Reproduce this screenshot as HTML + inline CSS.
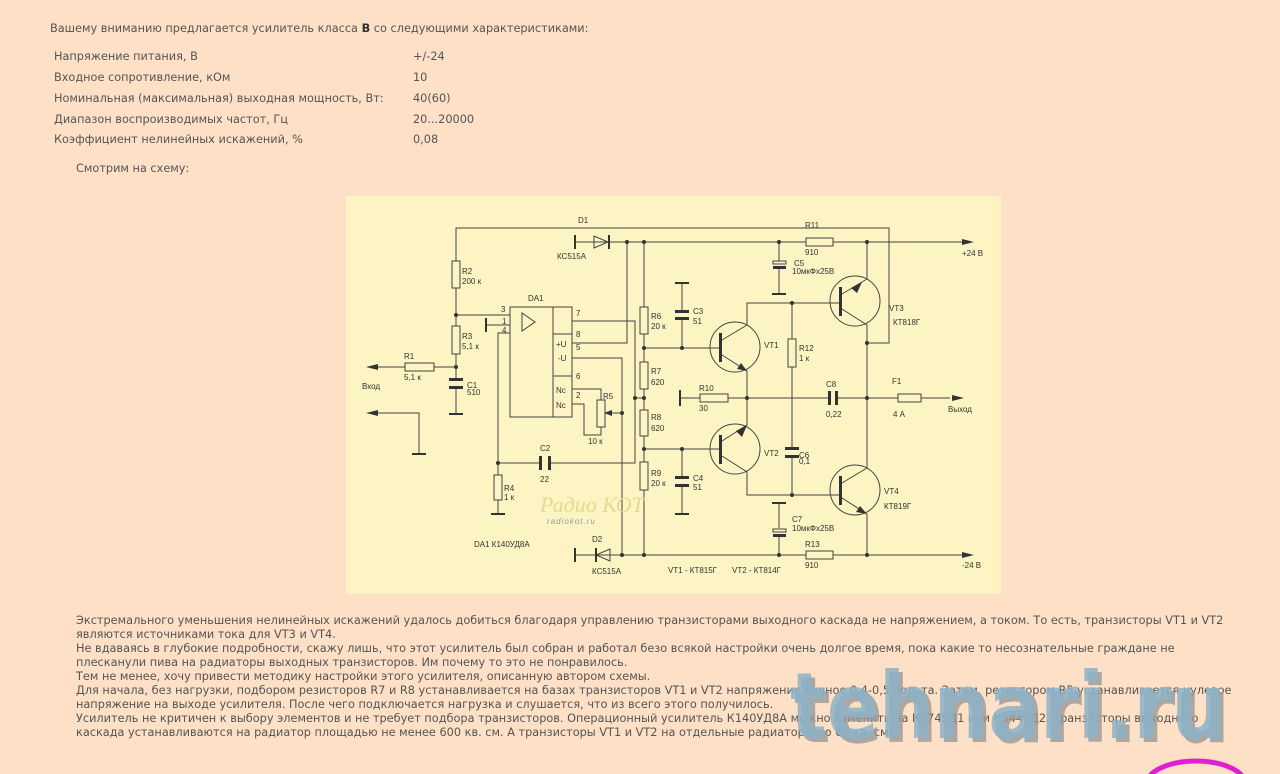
<!DOCTYPE html>
<html style="overflow:hidden;height:774px"><head><meta charset="utf-8"><style>
html,body{margin:0;padding:0}
body{width:1280px;height:774px;background:#fde0c5;position:relative;overflow:hidden;font-family:"DejaVu Sans","Liberation Sans",sans-serif;font-size:11.3px;color:#555}
.t{position:absolute;white-space:nowrap;line-height:14px}
svg{position:absolute;left:0;top:0}
</style></head><body>
<div class="t" style="left:50px;top:22px">Вашему вниманию предлагается усилитель класса <b style="color:#333">В</b> со следующими характеристиками:</div>
<div class="t" style="left:54px;top:50px">Напряжение питания, В</div><div class="t" style="left:413px;top:50px">+/-24</div>
<div class="t" style="left:54px;top:71px">Входное сопротивление, кОм</div><div class="t" style="left:413px;top:71px">10</div>
<div class="t" style="left:54px;top:92px">Номинальная (максимальная) выходная мощность, Вт:</div><div class="t" style="left:413px;top:92px">40(60)</div>
<div class="t" style="left:54px;top:113px">Диапазон воспроизводимых частот, Гц</div><div class="t" style="left:413px;top:113px">20...20000</div>
<div class="t" style="left:54px;top:133px">Коэффициент нелинейных искажений, %</div><div class="t" style="left:413px;top:133px">0,08</div>
<div class="t" style="left:76px;top:162px">Смотрим на схему:</div>

<svg width="1280" height="774" viewBox="0 0 1280 774" font-family="Liberation Sans, sans-serif" font-size="8" fill="#333">
<rect x="346" y="196" width="655" height="398" fill="#fcf4c2"/>
<g stroke="#444" stroke-width="1" fill="none">
<polyline points="456,261 456,228 889,228 889,343 867,343"/>
<line x1="575" y1="242" x2="962" y2="242"/>
<line x1="575" y1="555" x2="962" y2="555"/>
<line x1="456" y1="288" x2="456" y2="326"/>
<line x1="456" y1="354" x2="456" y2="380"/>
<line x1="456" y1="388" x2="456" y2="414"/>
<line x1="456" y1="315" x2="510" y2="315"/>
<line x1="434" y1="367" x2="456" y2="367"/>
<line x1="375" y1="367" x2="405" y2="367"/>
<polyline points="375,413 419,413 419,454"/>
<line x1="486" y1="325" x2="510" y2="325"/>
<polyline points="510,333 498,333 498,475"/>
<line x1="498" y1="500" x2="498" y2="514"/>
<line x1="498" y1="463" x2="541" y2="463"/>
<polyline points="551,463 635,463 635,321 572,321"/>
<polyline points="572,343 627,343 627,242"/>
<polyline points="572,358 622,358 622,555"/>
<polyline points="572,389 601,389 601,400"/>
<polyline points="572,404 584,404 584,435 601,435 601,427"/>
<line x1="608" y1="413" x2="622" y2="413"/>
<rect x="510" y="307" width="62" height="110"/>
<line x1="553" y1="307" x2="553" y2="417"/>
<line x1="553" y1="334" x2="572" y2="334"/>
<line x1="553" y1="376" x2="572" y2="376"/>
<polygon points="522,313 522,331 535,322"/>
<line x1="644" y1="242" x2="644" y2="307"/>
<line x1="644" y1="334" x2="644" y2="362"/>
<line x1="644" y1="389" x2="644" y2="410"/>
<line x1="644" y1="436" x2="644" y2="462"/>
<line x1="644" y1="490" x2="644" y2="555"/>
<line x1="635" y1="398" x2="644" y2="398"/>
<line x1="644" y1="348" x2="720" y2="348"/>
<line x1="644" y1="449" x2="720" y2="449"/>
<line x1="682" y1="283" x2="682" y2="312"/><line x1="682" y1="318" x2="682" y2="348"/>
<line x1="682" y1="449" x2="682" y2="478"/><line x1="682" y1="486" x2="682" y2="514"/>
<circle cx="735" cy="347" r="25"/>
<circle cx="735" cy="449" r="25"/>
<polyline points="722,340 747,325 747,303 840,303"/>
<polyline points="722,355 747,371 747,425 722,441"/>
<polyline points="722,456 747,472 747,495 840,495"/>
<line x1="792" y1="303" x2="792" y2="339"/>
<line x1="792" y1="367" x2="792" y2="449"/>
<line x1="792" y1="458" x2="792" y2="495"/>
<line x1="680" y1="398" x2="700" y2="398"/>
<line x1="728" y1="398" x2="829" y2="398"/>
<line x1="836" y1="398" x2="898" y2="398"/>
<line x1="921" y1="398" x2="950" y2="398"/>
<circle cx="855" cy="301" r="25"/>
<circle cx="855" cy="490" r="25"/>
<polyline points="842,294 867,279 867,242"/>
<polyline points="842,309 867,325 867,468 842,483"/>
<polyline points="842,498 867,514 867,555"/>
<line x1="779" y1="242" x2="779" y2="261"/><line x1="779" y1="268" x2="779" y2="294"/>
<line x1="779" y1="503" x2="779" y2="528"/><line x1="779" y1="535" x2="779" y2="555"/>
<polygon points="594,236 594,248 608,242"/>
<polygon points="610,549 610,561 596,555"/>
</g>
<g fill="#fcf4c2" stroke="#444" stroke-width="1">
<rect x="452" y="261" width="8" height="27"/>
<rect x="452" y="326" width="8" height="28"/>
<rect x="405" y="363" width="29" height="8"/>
<rect x="494" y="475" width="8" height="25"/>
<rect x="597" y="400" width="8" height="27"/>
<rect x="640" y="307" width="8" height="27"/>
<rect x="640" y="362" width="8" height="27"/>
<rect x="640" y="410" width="8" height="26"/>
<rect x="640" y="462" width="8" height="28"/>
<rect x="788" y="339" width="8" height="28"/>
<rect x="700" y="394" width="28" height="8"/>
<rect x="806" y="238" width="27" height="8"/>
<rect x="806" y="551" width="27" height="8"/>
<rect x="898" y="394" width="23" height="8"/>
<rect x="773" y="261" width="13" height="3"/>
<rect x="773" y="529" width="13" height="3"/>
</g>
<g fill="#333">
<rect x="449" y="378" width="14" height="3"/><rect x="449" y="386" width="14" height="3"/>
<rect x="539" y="456" width="3" height="14"/><rect x="548" y="456" width="3" height="14"/>
<rect x="675" y="310" width="14" height="3"/><rect x="675" y="317" width="14" height="3"/>
<rect x="675" y="476" width="14" height="3"/><rect x="675" y="484" width="14" height="3"/>
<rect x="785" y="447" width="14" height="3"/><rect x="785" y="455" width="14" height="3"/>
<rect x="828" y="391" width="3" height="14"/><rect x="835" y="391" width="3" height="14"/>
<rect x="773" y="266" width="13" height="3"/><rect x="773" y="534" width="13" height="3"/>
<rect x="449" y="413" width="14" height="2"/><rect x="412" y="453" width="14" height="2"/>
<rect x="491" y="513" width="14" height="2"/><rect x="675" y="282" width="14" height="2"/>
<rect x="675" y="513" width="14" height="2"/><rect x="772" y="293" width="14" height="2"/>
<rect x="772" y="502" width="14" height="2"/><rect x="574" y="235" width="2" height="14"/>
<rect x="574" y="548" width="2" height="14"/><rect x="485" y="318" width="2" height="14"/>
<rect x="679" y="390" width="2" height="16"/>
<rect x="608" y="235" width="2" height="14"/><rect x="595" y="548" width="2" height="14"/>
<rect x="719" y="333" width="3" height="29"/><rect x="719" y="435" width="3" height="29"/>
<rect x="839" y="287" width="3" height="29"/><rect x="839" y="476" width="3" height="29"/>
<polygon points="366,367 378,364 378,370"/><polygon points="366,413 378,410 378,416"/>
<polygon points="974,242 962,239 962,245"/><polygon points="974,555 962,552 962,558"/>
<polygon points="964,398 952,395 952,401"/><polygon points="604,413 612,410 612,416"/>
<polygon points="747,371 737,369 741,363"/>
<polygon points="736,431 747,425 742,437"/><polygon points="851,288 862,282 857,293"/>
<polygon points="867,514 856,512 860,506"/>
<circle cx="456" cy="315" r="2"/><circle cx="456" cy="367" r="2"/><circle cx="498" cy="463" r="2"/>
<circle cx="627" cy="242" r="2"/><circle cx="644" cy="242" r="2"/><circle cx="779" cy="242" r="2"/><circle cx="867" cy="242" r="2"/>
<circle cx="622" cy="555" r="2"/><circle cx="644" cy="555" r="2"/><circle cx="779" cy="555" r="2"/><circle cx="867" cy="555" r="2"/>
<circle cx="622" cy="413" r="2"/><circle cx="635" cy="398" r="2"/><circle cx="644" cy="398" r="2"/>
<circle cx="644" cy="348" r="2"/><circle cx="644" cy="449" r="2"/><circle cx="682" cy="348" r="2"/><circle cx="682" cy="449" r="2"/>
<circle cx="747" cy="398" r="2"/><circle cx="792" cy="303" r="2"/><circle cx="792" cy="495" r="2"/>
<circle cx="867" cy="343" r="2"/><circle cx="867" cy="398" r="2"/>
</g>
<g>
<text x="578" y="223">D1</text><text x="557" y="259">КС515А</text>
<text x="462" y="274">R2</text><text x="462" y="284">200 к</text>
<text x="462" y="339">R3</text><text x="462" y="349">5,1 к</text>
<text x="404" y="359">R1</text><text x="404" y="380">5,1 к</text>
<text x="362" y="389">Вход</text>
<text x="467" y="388">C1</text><text x="467" y="395">510</text>
<text x="528" y="301">DA1</text>
<text x="501" y="312">3</text><text x="502" y="324">1</text><text x="502" y="333">4</text>
<text x="576" y="316">7</text><text x="576" y="337">8</text><text x="576" y="350">5</text>
<text x="576" y="379">6</text><text x="576" y="398">2</text>
<text x="556" y="347">+U</text><text x="558" y="361">-U</text>
<text x="556" y="393">Nc</text><text x="556" y="408">Nc</text>
<text x="603" y="399">R5</text><text x="588" y="444">10 к</text>
<text x="540" y="451">C2</text><text x="540" y="482">22</text>
<text x="504" y="491">R4</text><text x="504" y="500">1 к</text>
<text x="474" y="547">DA1 К140УД8А</text>
<text x="592" y="542">D2</text><text x="592" y="574">КС515А</text>
<text x="651" y="319">R6</text><text x="651" y="329">20 к</text>
<text x="651" y="374">R7</text><text x="651" y="385">620</text>
<text x="651" y="420">R8</text><text x="651" y="431">620</text>
<text x="651" y="476">R9</text><text x="651" y="486">20 к</text>
<text x="693" y="314">C3</text><text x="693" y="324">51</text>
<text x="693" y="481">C4</text><text x="693" y="490">51</text>
<text x="764" y="348">VT1</text><text x="764" y="456">VT2</text>
<text x="799" y="351">R12</text><text x="799" y="361">1 к</text>
<text x="699" y="391">R10</text><text x="699" y="411">30</text>
<text x="826" y="387">C8</text><text x="826" y="417">0,22</text>
<text x="892" y="384">F1</text><text x="893" y="417">4 А</text>
<text x="948" y="412">Выход</text>
<text x="799" y="458">C6</text><text x="799" y="464">0,1</text>
<text x="805" y="228">R11</text><text x="805" y="255">910</text>
<text x="805" y="547">R13</text><text x="805" y="568">910</text>
<text x="794" y="266">C5</text><text x="792" y="274">10мкФх25В</text>
<text x="792" y="522">C7</text><text x="792" y="531">10мкФх25В</text>
<text x="889" y="311">VT3</text><text x="893" y="325">КТ818Г</text>
<text x="884" y="494">VT4</text><text x="884" y="509">КТ819Г</text>
<text x="962" y="256">+24 В</text><text x="962" y="568">-24 В</text>
<text x="668" y="573">VT1 - КТ815Г</text><text x="732" y="573">VT2 - КТ814Г</text>
<text x="540" y="512" font-size="22" font-style="italic" fill="#e8d890" font-family="Liberation Serif,serif">Радио КОТ</text>
<text x="547" y="524" font-size="8" font-style="italic" fill="#999" letter-spacing="1">radiokot.ru</text>
</g>
</svg>

<div class="t" style="left:76px;top:614px">Экстремального уменьшения нелинейных искажений удалось добиться благодаря управлению транзисторами выходного каскада не напряжением, а током. То есть, транзисторы VT1 и VT2<br>являются источниками тока для VT3 и VT4.<br>Не вдаваясь в глубокие подробности, скажу лишь, что этот усилитель был собран и работал безо всякой настройки очень долгое время, пока какие то несознательные граждане не<br>плесканули пива на радиаторы выходных транзисторов. Им почему то это не понравилось.<br>Тем не менее, хочу привести методику настройки этого усилителя, описанную автором схемы.<br>Для начала, без нагрузки, подбором резисторов R7 и R8 устанавливается на базах транзисторов VT1 и VT2 напряжение равное 0,4-0,5 вольта. Затем, резистором R5 устанавливается нулевое<br>напряжение на выходе усилителя. После чего подключается нагрузка и слушается, что из всего этого получилось.<br>Усилитель не критичен к выбору элементов и не требует подбора транзисторов. Операционный усилитель К140УД8А можно заменить на К574УД1 или К544УД2. Транзисторы выходного<br>каскада устанавливаются на радиатор площадью не менее 600 кв. см. А транзисторы VT1 и VT2 на отдельные радиаторы по 60 кв. см.</div>

<svg width="1280" height="774" viewBox="0 0 1280 774" style="pointer-events:none">
<text x="794" y="742" textLength="436" lengthAdjust="spacingAndGlyphs" font-family="DejaVu Sans, sans-serif" font-weight="bold" font-size="92" fill="#9a9a9a" opacity="0.8">tehnari.ru</text>
<text x="790" y="738" textLength="436" lengthAdjust="spacingAndGlyphs" font-family="DejaVu Sans, sans-serif" font-weight="bold" font-size="92" fill="#8db3c8" opacity="0.85">tehnari.ru</text>
<ellipse cx="1196" cy="785" rx="50" ry="24" fill="none" stroke="#e020d0" stroke-width="5"/>
</svg>
</body></html>
